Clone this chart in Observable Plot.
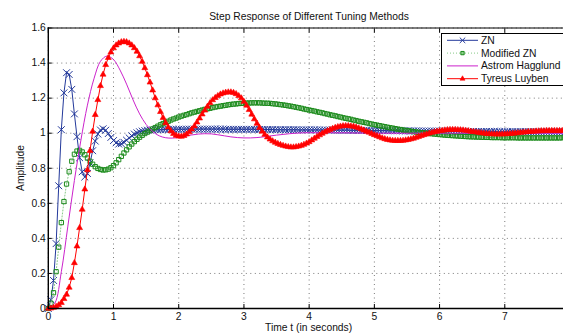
<!DOCTYPE html>
<html><head><meta charset="utf-8">
<script src="https://cdn.jsdelivr.net/npm/d3@7"></script>
<script src="https://cdn.jsdelivr.net/npm/@observablehq/plot@0.6"></script>
<style>body{margin:0;background:#fff} svg{display:block}</style>
</head><body><div id="chart"></div>
<script>
const title = "Step Response of Different Tuning Methods";
const xLabel = "Time t (in seconds)";
const yLabel = "Amplitude";
const seriesNames = ["ZN", "Modified ZN", "Astrom Hagglund", "Tyreus Luyben"];
const xTicks = [0, 1, 2, 3, 4, 5, 6, 7];
const yTicks = [0, 0.2, 0.4, 0.6, 0.8, 1, 1.2, 1.4, 1.6];
const yTickLabels = ["0", "0.2", "0.4", "0.6", "0.8", "1", "1.2", "1.4", "1.6"];

// sample times (s): marker series every 0.04 s, Astrom Hagglund every 0.1 s
const tMarker = d3.range(201).map(i => +(i * 0.04).toFixed(2));
const tAH = d3.range(81).map(i => +(i * 0.1).toFixed(1));

const znValues = [
0,0.05,0.16,0.37,0.7,1.02,1.23,1.345,1.335,1.25,1.11,0.98,0.86,0.78,0.75,0.77,0.83,0.9,0.955,0.995,
1.018,1.025,1.017,0.998,0.976,0.958,0.945,0.938,0.94,0.948,0.96,0.973,0.985,0.995,1.002,1.008,1.012,1.015,1.017,1.018,1.019,
1.02,1.02,1.02,1.021,1.021,1.021,1.021,1.022,1.022,1.022,
1.022,1.022,1.023,1.023,1.023,1.023,1.023,1.023,1.023,1.023,1.023,1.023,1.023,1.023,1.023,1.023,1.023,1.022,1.022,1.022,1.022,1.022,1.022,1.022,1.022,
1.022,1.022,1.022,1.022,1.021,1.021,1.021,1.021,1.021,1.021,1.021,1.02,1.02,1.02,1.02,1.02,1.02,1.02,1.02,1.02,1.019,1.019,1.019,1.019,1.019,
1.019,1.019,1.019,1.018,1.018,1.018,1.018,1.018,1.018,1.017,1.017,1.017,1.017,1.017,1.017,1.016,1.016,1.016,1.016,1.016,1.016,1.015,1.015,1.015,1.015,
1.015,1.015,1.015,1.015,1.014,1.014,1.014,1.014,1.014,1.014,1.013,1.013,1.013,1.013,1.013,1.013,1.013,1.012,1.012,1.012,1.012,1.012,1.012,1.012,1.012,
1.012,1.011,1.011,1.011,1.011,1.011,1.011,1.011,1.011,1.011,1.01,1.01,1.01,1.01,1.01,1.01,1.01,1.01,1.01,1.01,1.01,1.009,1.009,1.009,1.009,
1.009,1.009,1.009,1.009,1.009,1.009,1.009,1.009,1.009,1.008,1.008,1.008,1.008,1.008,1.008,1.008,1.008,1.008,1.008,1.008,1.008,1.008,1.008,1.008,1.008];

const mznValues = [
0,0.03,0.09,0.21,0.35,0.49,0.61,0.71,0.78,0.84,0.88,0.898,0.902,0.893,0.877,0.858,0.84,0.823,0.809,0.799,
0.793,0.79,0.791,0.795,0.803,0.815,0.831,0.849,0.868,0.887,0.905,0.922,0.938,0.952,0.965,0.977,0.988,0.998,1.006,1.015,
1.024,1.032,1.04,1.048,1.055,1.062,1.068,1.075,1.081,1.086,1.092,1.097,1.102,1.106,1.111,1.116,1.12,1.124,1.128,1.132,
1.136,1.139,1.142,1.146,1.149,1.152,1.154,1.157,1.159,1.162,1.164,1.166,1.167,1.169,1.17,1.171,1.172,1.172,1.173,1.173,
1.173,1.173,1.172,1.171,1.171,1.17,1.168,1.167,1.165,1.163,1.161,1.159,1.156,1.154,1.151,1.148,1.145,1.142,1.138,1.135,
1.132,1.129,1.126,1.122,1.119,1.116,1.112,1.109,1.105,1.102,1.099,1.095,1.092,1.088,1.085,1.082,1.079,1.075,1.072,1.068,
1.065,1.062,1.059,1.055,1.052,1.049,1.046,1.043,1.04,1.037,1.034,1.031,1.029,1.026,1.023,1.021,1.018,1.016,1.014,1.011,
1.009,1.007,1.005,1.003,1.001,1.0,0.998,0.997,0.995,0.994,0.992,0.991,0.989,0.988,0.987,0.986,0.985,0.984,0.983,0.982,
0.981,0.98,0.979,0.979,0.978,0.978,0.977,0.977,0.976,0.976,0.975,0.975,0.975,0.975,0.974,0.974,
0.974,0.974,0.974,0.974,0.973,0.973,0.973,0.973,0.973,0.973,0.973,0.973,0.973,0.973,0.973,0.973,0.973,0.973,0.973,0.973,0.973,0.974,0.974,0.974,0.974];

const ahValues = [
0,0.03,0.21,0.47,0.73,0.96,1.16,1.31,1.41,1.44,1.42,1.36,1.28,1.19,1.11,1.05,1.01,0.985,0.974,0.972,
0.976,0.983,0.99,0.995,0.997,0.996,0.991,0.985,0.979,0.975,0.973,0.973,0.975,0.979,0.984,0.989,0.993,0.997,1.0,1.002,
1.003,1.003,1.003,1.003,1.002,1.002,1.002,1.001,1.001,1.001,1.0,1.0,1.0,1.0,1.0,1.0,1.0,1.0,1.0,1.0,
1.0,1.0,1.0,1.0,1.0,1.0,1.0,1.0,1.0,1.0,1.0,1.0,1.0,1.0,1.0,1.0,1.0,1.0,1.0,1.0,1.0];

const tlValues = [
0,0.001,0.005,0.011,0.02,0.033,0.055,0.08,0.12,0.175,0.26,0.355,0.46,0.565,0.68,0.79,0.9,1.01,1.105,1.19,
1.27,1.335,1.39,1.43,1.462,1.485,1.502,1.513,1.52,1.522,1.52,1.513,1.502,1.486,1.466,1.44,1.408,1.372,1.332,1.29,
1.245,1.2,1.16,1.122,1.088,1.058,1.033,1.012,0.997,0.987,0.982,0.981,0.985,0.994,1.006,1.022,1.04,1.062,1.085,1.108,
1.13,1.152,1.172,1.189,1.202,1.213,1.222,1.228,1.232,1.234,1.234,1.231,1.224,1.213,1.2,1.18,1.158,1.133,1.107,1.08,
1.055,1.031,1.01,0.992,0.977,0.965,0.955,0.947,0.94,0.934,0.929,0.925,0.922,0.92,0.92,0.922,0.925,0.929,0.935,0.942,
0.95,0.96,0.97,0.98,0.989,0.998,1.006,1.013,1.02,1.026,1.032,1.036,1.039,1.041,1.042,1.042,1.04,1.038,1.034,1.029,
1.023,1.017,1.01,1.004,0.997,0.99,0.984,0.978,0.972,0.967,0.963,0.96,0.958,0.957,0.957,0.957,0.958,0.96,0.963,0.966,
0.97,0.975,0.98,0.985,0.99,0.994,0.999,1.003,1.007,1.01,1.013,1.015,1.017,1.019,1.02,1.02,1.02,1.019,1.018,1.017,
1.015,1.013,1.01,1.008,1.006,1.003,1.001,0.999,0.997,0.996,0.995,0.994,0.994,0.994,0.994,0.995,
0.996,0.997,0.998,1.0,1.001,1.003,1.005,1.006,1.008,1.009,1.01,1.011,1.012,1.013,1.013,1.014,1.014,1.014,1.014,1.014,1.014,1.014,1.014,1.013,1.013];

const colors = {zn: "#23399b", mznMark: "#1a8a1a", mznLine: "#86c986", ah: "#cc22cc", tl: "#ff0000"};

const toRows = (t, v) => t.map((x, i) => ({t: x, v: v[i]}));
const zn = toRows(tMarker, znValues);
const mzn = toRows(tMarker, mznValues);
const ah = toRows(tAH, ahValues);
const tl = toRows(tMarker, tlValues);

const W = 563, H = 335;
const fontFamily = "'Liberation Sans', Arial, Helvetica, sans-serif";
const fs = 10.3;
const rZN = 3.2, rSq = 2.4, rTri = 2.2;

const plot = Plot.plot({
  width: W, height: H,
  marginLeft: 47.8, marginRight: 0, marginTop: 27.5, marginBottom: 27,
  style: {fontFamily, fontSize: fs + "px", color: "#111", background: "#fff", overflow: "hidden"},
  x: {domain: [0, 8], range: [47.8, 569.5]},
  y: {domain: [0, 1.6], range: [308, 27.5]},
  marks: [
    Plot.gridX(xTicks, {stroke: "#7a7a7a", strokeOpacity: 1, strokeWidth: 1, strokeDasharray: "1,3.5"}),
    Plot.gridY(yTicks, {stroke: "#7a7a7a", strokeOpacity: 1, strokeWidth: 1, strokeDasharray: "1,3.5"}),
    Plot.line(zn, {x: "t", y: "v", stroke: colors.zn, strokeWidth: 1}),
    Plot.dot(zn, {x: "t", y: "v", symbol: "times", r: rZN, stroke: colors.zn, strokeWidth: 1}),
    Plot.line(mzn, {x: "t", y: "v", stroke: colors.mznLine, strokeWidth: 1, strokeDasharray: "1,2"}),
    Plot.dot(mzn, {x: "t", y: "v", symbol: "square", r: rSq, stroke: colors.mznMark, fill: "none", strokeWidth: 1}),
    Plot.line(ah, {x: "t", y: "v", stroke: colors.ah, strokeWidth: 1, curve: "catmull-rom"}),
    Plot.line(tl, {x: "t", y: "v", stroke: colors.tl, strokeWidth: 1}),
    Plot.dot(tl, {x: "t", y: "v", symbol: "triangle", r: rTri, fill: colors.tl, stroke: colors.tl, strokeWidth: 0.6}),
    Plot.ruleY([yTicks[yTicks.length - 1]], {stroke: "#000", strokeWidth: 1}),
    Plot.ruleX([0], {stroke: "#000", strokeWidth: 1.4}),
    Plot.ruleY([0], {stroke: "#000", strokeWidth: 1.6}),
    Plot.axisX({ticks: xTicks, tickSize: 0, tickPadding: 4.5, label: null}),
    Plot.axisX({ticks: xTicks, tickSize: -4, tickFormat: () => "", label: null, stroke: "#000"}),
    Plot.axisX({anchor: "top", ticks: xTicks, tickSize: -4, tickFormat: () => "", label: null, stroke: "#000"}),
    Plot.axisY({ticks: yTicks, tickSize: 0, tickPadding: 2.5, tickFormat: d => yTickLabels[yTicks.indexOf(d)], label: null}),
    Plot.axisY({ticks: yTicks, tickSize: -4, tickFormat: () => "", label: null, stroke: "#000"})
  ]
});
document.getElementById("chart").appendChild(plot);

const svg = d3.select(plot);
const textStyle = s => s.attr("font-family", fontFamily).attr("font-size", fs).attr("fill", "#111");

svg.append("text").text(title).attr("x", 309).attr("y", 16).attr("text-anchor", "middle")
  .attr("dominant-baseline", "central").call(textStyle);
svg.append("text").text(xLabel).attr("x", 308.6).attr("y", 327.5).attr("text-anchor", "middle")
  .attr("dominant-baseline", "central").call(textStyle);
svg.append("text").text(yLabel).attr("transform", "translate(20.5,168) rotate(-90)").attr("text-anchor", "middle")
  .attr("dominant-baseline", "central").call(textStyle);

// legend
const lg = svg.append("g");
lg.append("rect").attr("x", 441.5).attr("y", 33.5).attr("width", 200).attr("height", 52)
  .attr("fill", "#fff").attr("stroke", "#000").attr("stroke-width", 1);
const legendStyles = [
  {stroke: colors.zn, dash: null, sym: d3.symbolTimes, size: Math.PI * 2.6 * 2.6, fill: "none", symStroke: colors.zn, sw: 1},
  {stroke: colors.mznLine, dash: "1,2", sym: d3.symbolSquare, size: 11, fill: "#8fd08f", symStroke: colors.mznMark, sw: 1},
  {stroke: colors.ah, dash: null, sym: null},
  {stroke: colors.tl, dash: null, sym: d3.symbolTriangle, size: 11, fill: colors.tl, symStroke: colors.tl, sw: 0.6}
];
seriesNames.forEach((name, i) => {
  const y = 40.3 + i * 12.8;
  const st = legendStyles[i];
  lg.append("line").attr("x1", 447).attr("x2", 478).attr("y1", y).attr("y2", y)
    .attr("stroke", st.stroke).attr("stroke-width", 1).attr("stroke-dasharray", st.dash);
  if (st.sym) {
    lg.append("path").attr("d", d3.symbol(st.sym, st.size)()).attr("transform", `translate(462.5,${y})`)
      .attr("fill", st.fill).attr("stroke", st.symStroke).attr("stroke-width", st.sw);
  }
  lg.append("text").text(name).attr("x", 481).attr("y", y).attr("text-anchor", "start")
    .attr("dominant-baseline", "central").call(textStyle);
});
</script>
</body></html>
